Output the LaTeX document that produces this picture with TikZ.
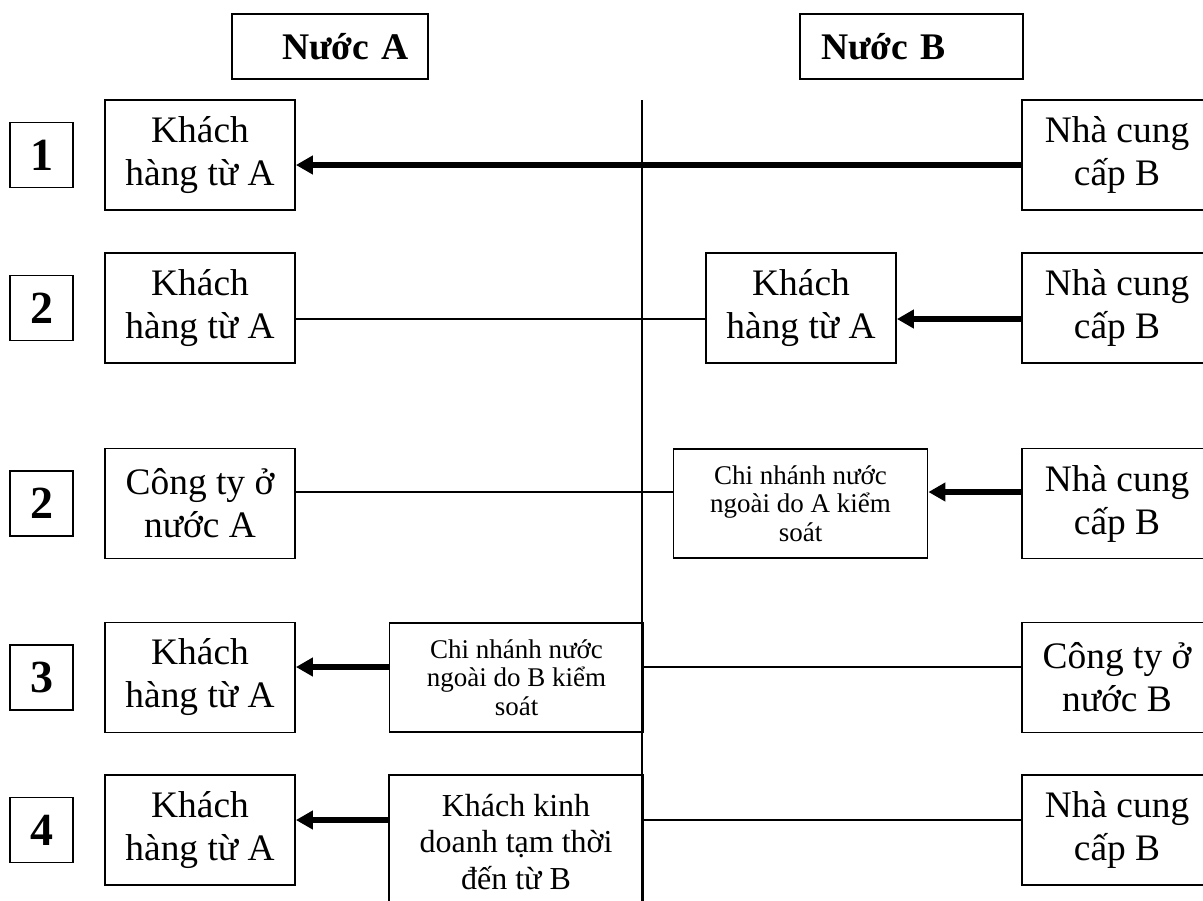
\documentclass[tikz,border=0pt]{standalone}
\usepackage{fontspec}
\setmainfont{Liberation Serif}
\usetikzlibrary{arrows.meta}

\begin{document}
\begin{tikzpicture}[x=0.5pt, y=-0.5pt,
    box/.style ={draw, line width=0.9pt, inner sep=0pt, align=center, minimum width=95pt, minimum height=55pt, font=\fontsize{18.7}{21.5}\selectfont},
    branch/.style ={box, minimum width=127pt, minimum height=54.5pt, font=\fontsize{13.5}{14.2}\selectfont},
    visitor/.style ={box, minimum width=127pt, minimum height=67pt, font=\fontsize{16}{18.3}\selectfont},
    number/.style ={draw, line width=0.9pt, inner sep=0pt, minimum width=31.5pt, minimum height=32.5pt, font=\bfseries\fontsize{23}{24}\selectfont},
    country/.style ={draw, line width=0.9pt, inner sep=0pt, minimum height=32.5pt, align=left, font=\bfseries\fontsize{18.8}{21}\selectfont},
    flow/.style ={line width=3pt, -{Triangle[length=8.5pt,width=9pt]}},
    link/.style ={line width=0.9pt}]
   \useasboundingbox (0,0) rectangle (1203,900);
   \node[country, text width=98pt] (hdrA) at (330,46.5) {\hspace*{25pt}Nước A};
   \node[country, text width=111.5pt] (hdrB) at (911.5,46.5) {\hspace*{10.5pt}Nước B};
   \coordinate (axisTop) at (642,100);
   \coordinate (axisBot) at (642,902);
   \draw[link] (axisTop) to (axisBot);

   \coordinate (r1) at (0,165);
   \coordinate (r2) at (0,319);
   \coordinate (r3) at (0,492);
   \coordinate (r4) at (0,667);
   \coordinate (r5) at (0,820);

   \node[number] (n1) at (41.5,155) {1};
   \node[box] (kh1) at (200,155) {Khách\\hàng từ A};
   \node[box] (nc1) at (1117,155) {Nhà cung\\cấp B};
   \draw[flow] (nc1.west |- r1) to (kh1.east |- r1);

   \node[number] (n2) at (41.5,308) {2};
   \node[box] (kh2) at (200,308) {Khách\\hàng từ A};
   \node[box] (kh2b) at (801,308) {Khách\\hàng từ A};
   \node[box] (nc2) at (1117,308) {Nhà cung\\cấp B};
   \draw[link] (kh2.east |- r2) to (kh2b.west |- r2);
   \draw[flow] (nc2.west |- r2) to (kh2b.east |- r2);

   \node[number] (n3) at (41.5,503.5) {2};
   \node[box] (ct3) at (200,503.5) {Công ty ở\\nước A};
   \node[branch] (cn3) at (800.5,503.5) {Chi nhánh nước\\ngoài do A kiểm\\soát};
   \node[box] (nc3) at (1117,503.5) {Nhà cung\\cấp B};
   \draw[link] (ct3.east |- r3) to (cn3.west |- r3);
   \draw[flow] (nc3.west |- r3) to (cn3.east |- r3);

   \node[number] (n4) at (41.5,677.5) {3};
   \node[box] (kh4) at (200,677.5) {Khách\\hàng từ A};
   \node[branch] (cn4) at (516.5,677.5) {Chi nhánh nước\\ngoài do B kiểm\\soát};
   \node[box] (ct4) at (1117,677.5) {Công ty ở\\nước B};
   \draw[flow] (cn4.west |- r4) to (kh4.east |- r4);
   \draw[link] (cn4.east |- r4) to (ct4.west |- r4);

   \node[number] (n5) at (41.5,830) {4};
   \node[box] (kh5) at (200,830) {Khách\\hàng từ A};
   \node[visitor] (kd5) at (516,842) {Khách kinh\\doanh tạm thời\\đến từ B};
   \node[box] (nc5) at (1117,830) {Nhà cung\\cấp B};
   \draw[flow] (kd5.west |- r5) to (kh5.east |- r5);
   \draw[link] (kd5.east |- r5) to (nc5.west |- r5);
 \end{tikzpicture}
\end{document}
